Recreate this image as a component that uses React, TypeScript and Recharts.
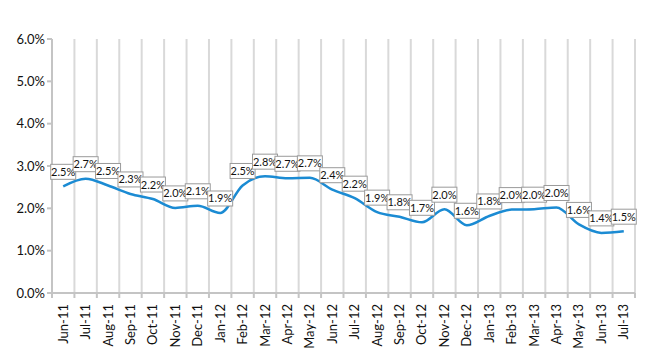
import React from 'react';
import { LineChart, Line, XAxis, YAxis, CartesianGrid, LabelList } from 'recharts';

const months = [
  'Jun-11', 'Jul-11', 'Aug-11', 'Sep-11', 'Oct-11', 'Nov-11', 'Dec-11', 'Jan-12', 'Feb-12',
  'Mar-12', 'Apr-12', 'May-12', 'Jun-12', 'Jul-12', 'Aug-12', 'Sep-12', 'Oct-12', 'Nov-12',
  'Dec-12', 'Jan-13', 'Feb-13', 'Mar-13', 'Apr-13', 'May-13', 'Jun-13', 'Jul-13',
];

const rates = [
  2.52, 2.70, 2.54, 2.34, 2.22, 2.01, 2.06, 1.89, 2.54, 2.76, 2.71, 2.72, 2.44,
  2.24, 1.91, 1.80, 1.67, 1.98, 1.60, 1.82, 1.97, 1.98, 2.02, 1.62, 1.42, 1.46,
];

const yTicks = [0, 1, 2, 3, 4, 5, 6];

const data = months.map((m, i) => ({ pos: i + 0.5, month: m, rate: rates[i] }));
const boundaryTicks = months.map((_, i) => i).concat([months.length]);
const centerTicks = months.map((_, i) => i + 0.5);

const FONT = 'Lato, "Open Sans", sans-serif';

const BoxLabel = (props: any) => {
  const { x, y, value } = props;
  if (x == null || y == null) return null;
  const w = 25;
  const h = 15;
  const bx = x - w / 2;
  const by = y - 7 - h;
  return (
    <g>
      <rect x={bx} y={by} width={w} height={h} fill="#ffffff" stroke="#9a9a9a" strokeWidth={1} />
      <text x={x} y={by + h / 2 + 4} textAnchor="middle" fontSize={11} fontFamily={FONT} fill="#111">
        {Number(value).toFixed(1) + '%'}
      </text>
    </g>
  );
};

const EmptyTick = () => <g />;

const MonthTick = (props: any) => {
  const { x, y, payload } = props;
  const idx = Math.round(payload.value - 0.5);
  const label = months[idx] ?? '';
  return (
    <text
      x={0}
      y={0}
      transform={`translate(${x + 4.5},${y + 2}) rotate(-90)`}
      textAnchor="end"
      fontSize={13}
      fontFamily={FONT}
      fill="#111"
    >
      {label}
    </text>
  );
};

export default function App() {
  return (
    <div style={{ position: 'absolute', left: 0, top: 0, background: '#fff' }}>
      <LineChart
        width={650}
        height={350}
        data={data}
        margin={{ top: 39, right: 15, bottom: 0, left: 0 }}
      >
        <CartesianGrid
          horizontal={false}
          vertical={true}
          xAxisId="grid"
          stroke="#d9d9d9"
          strokeWidth={2}
        />
        <XAxis
          xAxisId="grid"
          dataKey="pos"
          type="number"
          domain={[0, months.length]}
          ticks={boundaryTicks}
          interval={0}
          tick={<EmptyTick />}
          tickSize={5}
          axisLine={{ stroke: '#c4c4c4', strokeWidth: 2 }}
          tickLine={{ stroke: '#c4c4c4', strokeWidth: 2 }}
          height={1}
        />
        <XAxis
          xAxisId="labels"
          dataKey="pos"
          type="number"
          domain={[0, months.length]}
          ticks={centerTicks}
          interval={0}
          axisLine={false}
          tickLine={false}
          tick={<MonthTick />}
          height={56}
        />
        <YAxis
          domain={[0, 6]}
          ticks={yTicks}
          interval={0}
          width={52}
          tickFormatter={(v: number) => v.toFixed(1) + '%'}
          tick={{ fontSize: 13, fontFamily: FONT, fill: '#111' }}
          axisLine={{ stroke: '#c4c4c4', strokeWidth: 2 }}
          tickLine={{ stroke: '#c4c4c4', strokeWidth: 2 }}
          tickSize={5}
        />
        <Line
          xAxisId="grid"
          type="monotone"
          dataKey="rate"
          stroke="#1b8bd3"
          strokeWidth={2.5}
          dot={false}
          isAnimationActive={false}
        >
          <LabelList dataKey="rate" content={<BoxLabel />} />
        </Line>
      </LineChart>
    </div>
  );
}
